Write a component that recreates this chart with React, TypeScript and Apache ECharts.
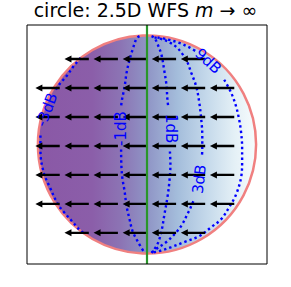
import React, { useEffect, useRef } from "react";
import * as echarts from "echarts";

// ---- data ----
const radius = [1.5];
const axisMin = -1.65;
const axisMax = 1.65;

// quiver grid (arrow tails) and direction
const arrowRowY = [1.18, 0.78, 0.38, -0.02, -0.42, -0.82, -1.22];
const arrowRowX = [
  [-0.8, -0.4, 0, 0.4, 0.8],
  [-1.2, -0.8, -0.4, 0, 0.4, 0.8, 1.2],
  [-1.2, -0.8, -0.4, 0, 0.4, 0.8, 1.2],
  [-1.2, -0.8, -0.4, 0, 0.4, 0.8, 1.2],
  [-1.2, -0.8, -0.4, 0, 0.4, 0.8, 1.2],
  [-1.2, -0.8, -0.4, 0, 0.4, 0.8, 1.2],
  [-0.8, -0.4, 0, 0.4, 0.8],
];
const arrowU = -1;
const arrowV = 0;
const arrowLength = 0.335;

// contour lines (segments broken where labels sit)
const contourMinus3 = [
  [[-0.911, 1.196], [-1.006, 1.086], [-1.102, 0.949], [-1.198, 0.839], [-1.253, 0.756]],
  [[-1.465, 0.124], [-1.465, -0.041], [-1.458, -0.206], [-1.431, -0.344], [-1.404, -0.44], [-1.335, -0.591], [-1.226, -0.825], [-1.13, -0.949], [-1.02, -1.072], [-0.924, -1.182], [-0.842, -1.237]],
];
const contourMinus1 = [
  [[-0.103, 1.497], [-0.144, 1.464], [-0.199, 1.306], [-0.24, 1.169], [-0.281, 0.99], [-0.308, 0.797], [-0.349, 0.591], [-0.356, 0.509]],
  [[-0.356, -0.069], [-0.353, -0.275], [-0.34, -0.454], [-0.308, -0.646], [-0.281, -0.852], [-0.24, -1.031], [-0.199, -1.196], [-0.13, -1.334], [-0.034, -1.497]],
];
const contourPlus1 = [
  [[0.062, 1.497], [0.103, 1.471], [0.144, 1.389], [0.199, 1.237], [0.24, 1.004], [0.267, 0.825], [0.281, 0.619], [0.294, 0.509]],
  [[0.315, -0.096], [0.322, -0.275], [0.308, -0.509], [0.281, -0.729], [0.24, -0.962], [0.199, -1.196], [0.144, -1.375], [0.062, -1.497]],
];
const contourPlus3 = [
  [[0.103, 1.479], [0.24, 1.444], [0.335, 1.396], [0.418, 1.334], [0.486, 1.251], [0.541, 1.169], [0.609, 0.99], [0.678, 0.797], [0.719, 0.577], [0.746, 0.344], [0.76, 0.137], [0.76, -0.069], [0.753, -0.179]],
  [[0.637, -0.784], [0.596, -0.88], [0.555, -0.962], [0.486, -1.1], [0.404, -1.21], [0.281, -1.334], [0.144, -1.43], [0.062, -1.492]],
];
const contourPlus9 = [
  [[0.144, 1.478], [0.281, 1.451], [0.445, 1.402], [0.582, 1.341], [0.664, 1.292]],
  [[1.061, 0.894], [1.157, 0.715], [1.226, 0.522], [1.267, 0.344], [1.294, 0.165], [1.308, -0.041], [1.308, -0.234], [1.294, -0.454], [1.226, -0.687], [1.13, -0.866], [1.02, -1.031], [0.883, -1.141], [0.719, -1.265], [0.513, -1.347], [0.335, -1.416], [0.171, -1.471], [0.075, -1.492]],
];
const contours = [contourMinus3, contourMinus1, contourPlus1, contourPlus3, contourPlus9];

const labelTexts = ["-3dB", "-1dB", "1dB", "3dB", "9dB"];
const labelX = [-1.377, -0.363, 0.336, 0.719, 0.842];
const labelY = [0.479, 0.219, 0.219, -0.479, 1.151];
const labelRotation = [69, 90, -90, 83, -43];

const title = "circle: 2.5D WFS {m|m}{a| → ∞}";

export default function App() {
  const ref = useRef<HTMLDivElement>(null);
  useEffect(() => {
    if (!ref.current) return;
    const chart = echarts.init(ref.current, undefined, { renderer: "svg" });

    const arrowData: number[][] = [];
    arrowRowY.forEach((y, i) => {
      arrowRowX[i].forEach((x) => arrowData.push([x, y, arrowU, arrowV]));
    });

    const fillGradient = new echarts.graphic.LinearGradient(0, 0, 1, 0, [
      { offset: 0, color: "#8a58a6" },
      { offset: 0.25, color: "#8b5ea9" },
      { offset: 0.38, color: "#8c74b4" },
      { offset: 0.5, color: "#8f94c5" },
      { offset: 0.64, color: "#a4bddb" },
      { offset: 0.78, color: "#c6daeb" },
      { offset: 0.9, color: "#e4f0f6" },
      { offset: 1, color: "#f7fcfd" },
    ]);

    const contourSeries: any[] = [];
    contours.forEach((segs) => {
      segs.forEach((seg) => {
        contourSeries.push({
          type: "line",
          data: seg,
          showSymbol: false,
          symbol: "none",
          smooth: 0.35,
          z: 4,
          silent: true,
          lineStyle: { color: "#0000ff", width: 2.4, type: [2.4, 3] },
        });
      });
    });

    const option: any = {
      animation: false,
      backgroundColor: "#ffffff",
      title: {
        text: title,
        left: "center",
        top: 0,
        padding: 0,
        textStyle: {
          fontFamily: "DejaVu Sans",
          fontSize: 19,
          fontWeight: "normal",
          color: "#000",
          rich: {
            m: { fontFamily: "DejaVu Sans", fontSize: 19, fontStyle: "italic", color: "#000" },
            a: { fontFamily: "DejaVu Sans", fontSize: 19, color: "#000" },
          },
        },
      },
      grid: {
        left: 27,
        top: 25,
        width: 240,
        height: 239,
        show: true,
        borderColor: "#000",
        borderWidth: 1,
        backgroundColor: "transparent",
        z: 20,
      },
      xAxis: { type: "value", min: axisMin, max: axisMax, show: false },
      yAxis: { type: "value", min: axisMin, max: axisMax, show: false },
      series: [
        {
          type: "custom",
          z: 1,
          silent: true,
          data: [[0, 0, radius[0]]],
          encode: { x: 0, y: 1 },
          renderItem: (params: any, api: any) => {
            const c = api.coord([api.value(0), api.value(1)]);
            const r = api.size([api.value(2), 0])[0];
            return {
              type: "circle",
              shape: { cx: c[0], cy: c[1], r },
              style: { fill: fillGradient, stroke: "#f08080", lineWidth: 2.5 },
            };
          },
        },
        ...contourSeries,
        {
          type: "custom",
          z: 6,
          silent: true,
          data: arrowData,
          encode: { x: 0, y: 1 },
          renderItem: (params: any, api: any) => {
            const x = api.value(0);
            const y = api.value(1);
            const u = api.value(2);
            const v = api.value(3);
            const p0 = api.coord([x, y]);
            const p1 = api.coord([x + u * arrowLength, y + v * arrowLength]);
            const dx = p1[0] - p0[0];
            const dy = p1[1] - p0[1];
            const L = Math.hypot(dx, dy) || 1;
            const ux = dx / L;
            const uy = dy / L;
            const nx = -uy;
            const ny = ux;
            const hw = 1.2;
            const headL = 7;
            const headHW = 3.5;
            const bx = p1[0] - ux * headL;
            const by = p1[1] - uy * headL;
            const points = [
              [p0[0] + nx * hw, p0[1] + ny * hw],
              [bx + nx * hw, by + ny * hw],
              [bx + nx * headHW, by + ny * headHW],
              [p1[0], p1[1]],
              [bx - nx * headHW, by - ny * headHW],
              [bx - nx * hw, by - ny * hw],
              [p0[0] - nx * hw, p0[1] - ny * hw],
            ];
            return { type: "polygon", shape: { points }, style: { fill: "#000" } };
          },
        },
        {
          type: "custom",
          z: 7,
          silent: true,
          data: labelTexts.map((t, i) => [labelX[i], labelY[i]]),
          encode: { x: 0, y: 1 },
          renderItem: (params: any, api: any) => {
            const i = params.dataIndex;
            const p = api.coord([api.value(0), api.value(1)]);
            return {
              type: "text",
              x: p[0],
              y: p[1],
              rotation: (labelRotation[i] * Math.PI) / 180,
              style: {
                text: labelTexts[i],
                fill: "#0000ff",
                fontSize: 15,
                fontFamily: "DejaVu Sans",
                align: "center",
                verticalAlign: "middle",
              },
            };
          },
        },
        {
          type: "line",
          data: [],
          z: 10,
          silent: true,
          markLine: {
            silent: true,
            symbol: "none",
            z: 10,
            label: { show: false },
            lineStyle: { color: "#2a962a", width: 2.2, type: "solid" },
            data: [{ xAxis: 0 }],
          },
        },
      ],
    };
    chart.setOption(option);
    return () => chart.dispose();
  }, []);
  return (
    <div
      ref={ref}
      style={{ position: "absolute", left: 0, top: 0, width: 291, height: 287 }}
    />
  );
}
